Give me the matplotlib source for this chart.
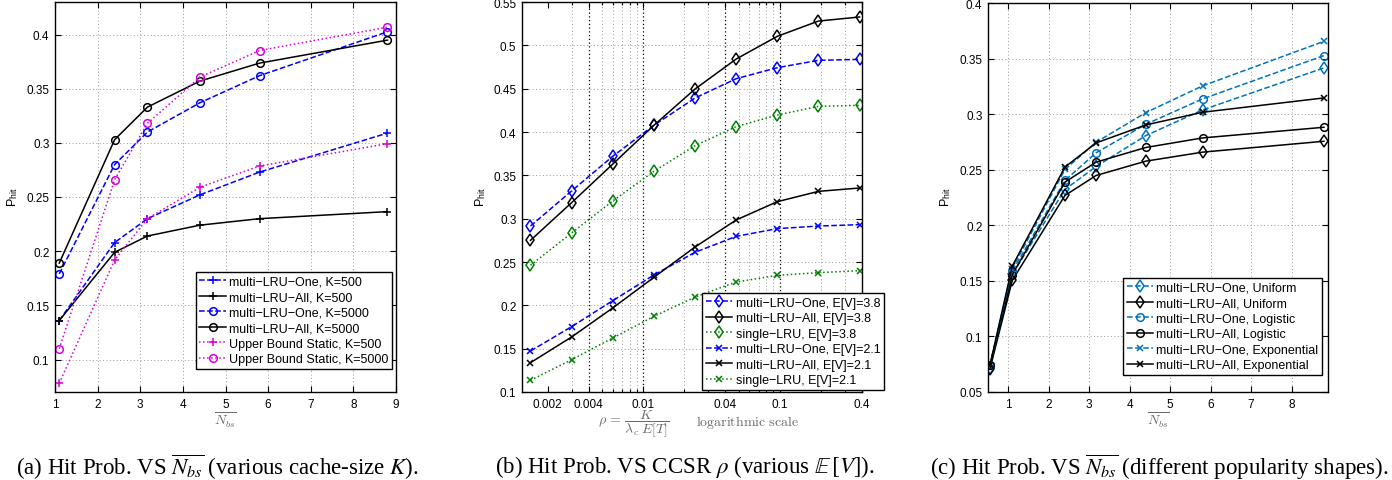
import numpy as np
import matplotlib
matplotlib.use("Agg")
import matplotlib.pyplot as plt
from matplotlib.ticker import FixedLocator, NullFormatter, LogLocator

# ---------------- data ----------------
nbs_a = [1.1, 2.4, 3.17, 4.4, 5.8, 8.8]
one_k500 = [0.136, 0.208, 0.230, 0.252, 0.273, 0.309]
all_k500 = [0.136, 0.199, 0.214, 0.224, 0.230, 0.2365]
one_k5000 = [0.179, 0.280, 0.310, 0.337, 0.362, 0.4025]
all_k5000 = [0.189, 0.303, 0.333, 0.357, 0.3736, 0.3948]
ub_k500 = [0.078, 0.192, 0.230, 0.259, 0.2786, 0.2992]
ub_k5000 = [0.110, 0.266, 0.318, 0.3607, 0.3852, 0.4068]

rho = [0.0015, 0.003, 0.006, 0.012, 0.024, 0.048, 0.096, 0.192, 0.384]
one_v38 = [0.2915, 0.332, 0.372, 0.4077, 0.4392, 0.4615, 0.4742, 0.4827, 0.4838]
all_v38 = [0.275, 0.3185, 0.363, 0.4077, 0.4496, 0.4842, 0.5104, 0.528, 0.5327]
single_v38 = [0.2462, 0.2835, 0.3204, 0.3546, 0.3842, 0.4062, 0.4196, 0.4296, 0.4308]
one_v21 = [0.1473, 0.1754, 0.2054, 0.235, 0.2612, 0.2796, 0.2885, 0.2915, 0.2931]
all_v21 = [0.1338, 0.1635, 0.197, 0.2323, 0.2673, 0.2985, 0.3196, 0.3315, 0.3354]
single_v21 = [0.1135, 0.1373, 0.1623, 0.1873, 0.2096, 0.2269, 0.2346, 0.2377, 0.240]

nbs_c = [0.55, 1.1, 2.4, 3.17, 4.4, 5.8, 8.8]
one_unif = [0.0716, 0.1558, 0.2322, 0.2529, 0.2807, 0.3038, 0.3416]
all_unif = [0.071, 0.1504, 0.2268, 0.2448, 0.2577, 0.2658, 0.2756]
one_logi = [0.074, 0.1585, 0.2403, 0.2652, 0.2909, 0.3137, 0.3527]
all_logi = [0.074, 0.1555, 0.2388, 0.2568, 0.270, 0.2786, 0.2882]
one_expo = [0.0746, 0.1609, 0.2502, 0.2747, 0.3014, 0.3254, 0.3655]
all_expo = [0.0746, 0.1633, 0.2523, 0.2741, 0.2903, 0.3017, 0.3146]

xticks_a = [1, 2, 3, 4, 5, 6, 7, 8, 9]
yticks_a = [0.1, 0.15, 0.2, 0.25, 0.3, 0.35, 0.4]
xticks_b = [0.002, 0.004, 0.01, 0.04, 0.1, 0.4]
xticklabels_b = ["0.002", "0.004", "0.01", "0.04", "0.1", "0.4"]
dark_grid_b = [0.004, 0.01, 0.04, 0.1]
yticks_b = [0.1, 0.15, 0.2, 0.25, 0.3, 0.35, 0.4, 0.45, 0.5, 0.55]
xticks_c = [1, 2, 3, 4, 5, 6, 7, 8]
yticks_c = [0.05, 0.1, 0.15, 0.2, 0.25, 0.3, 0.35, 0.4]

m = "\u2212"
labels_a = [f"multi{m}LRU{m}One, K=500", f"multi{m}LRU{m}All, K=500",
            f"multi{m}LRU{m}One, K=5000", f"multi{m}LRU{m}All, K=5000",
            "Upper Bound Static, K=500", "Upper Bound Static, K=5000"]
labels_b = [f"multi{m}LRU{m}One, E[V]=3.8", f"multi{m}LRU{m}All, E[V]=3.8",
            f"single{m}LRU, E[V]=3.8", f"multi{m}LRU{m}One, E[V]=2.1",
            f"multi{m}LRU{m}All, E[V]=2.1", f"single{m}LRU, E[V]=2.1"]
labels_c = [f"multi{m}LRU{m}One, Uniform", f"multi{m}LRU{m}All, Uniform",
            f"multi{m}LRU{m}One, Logistic", f"multi{m}LRU{m}All, Logistic",
            f"multi{m}LRU{m}One, Exponential", f"multi{m}LRU{m}All, Exponential"]

# ---------------- style ----------------
plt.rcParams['font.family'] = ['Liberation Sans', 'DejaVu Sans']
plt.rcParams['mathtext.fontset'] = 'stix'
TICK_FS = 8.5
LEG_FS = 9
BLUE = (0, 0, 1)
BLUE_C = (0.0, 0.45, 0.74)
GREEN = (0, 0.5, 0)
MAG = (0.85, 0, 0.85)
GRID = dict(color='#9a9a9a', linestyle=(0, (1, 2.5)), linewidth=0.7)

fig = plt.figure(figsize=(13.92, 4.81), dpi=100)
W, H = 1392, 481


def add_ax(x0, x1, y0, y1):
    return fig.add_axes([x0 / W, 1 - y1 / H, (x1 - x0) / W, (y1 - y0) / H])


def style(ax):
    ax.tick_params(direction='in', which='both', top=True, right=True,
                   labelsize=TICK_FS, length=4, width=0.8, pad=4)
    ax.tick_params(which='minor', length=2)
    for s in ax.spines.values():
        s.set_linewidth(1.0)
    ax.set_axisbelow(True)


def legend(ax, anchor):
    lg = ax.legend(loc='lower right', bbox_to_anchor=anchor, fontsize=LEG_FS,
                   frameon=True, fancybox=False, edgecolor='k', framealpha=1,
                   handlelength=2.1, labelspacing=0.28, borderpad=0.3,
                   handletextpad=0.25, borderaxespad=0)
    lg.get_frame().set_linewidth(1.0)
    return lg


lw = 1.1
ms = 5.5

# ---------------- panel a ----------------
ax1 = add_ax(55, 396, 3, 393)
ax1.plot(nbs_a, one_k500, '--', color=BLUE, marker='+', ms=6, mew=1.1, lw=lw, label=labels_a[0])
ax1.plot(nbs_a, all_k500, '-', color='k', marker='+', ms=6, mew=1.1, lw=lw, label=labels_a[1])
ax1.plot(nbs_a, one_k5000, '--', color=BLUE, marker='o', ms=ms, mfc='none', mew=1.1, lw=lw, label=labels_a[2])
ax1.plot(nbs_a, all_k5000, '-', color='k', marker='o', ms=ms, mfc='none', mew=1.1, lw=lw, label=labels_a[3])
ax1.plot(nbs_a, ub_k500, ':', color=MAG, marker='+', ms=6, mew=1.1, lw=lw, label=labels_a[4])
ax1.plot(nbs_a, ub_k5000, ':', color=MAG, marker='o', ms=ms, mfc='none', mew=1.1, lw=lw, label=labels_a[5])
ax1.set_xlim(1, 9)
ax1.set_ylim(0.07, 0.43)
ax1.set_xticks(xticks_a)
ax1.set_yticks(yticks_a)
ax1.set_yticklabels([f"{v:g}" for v in yticks_a])
ax1.grid(True, **GRID)
style(ax1)
legend(ax1, (0.988, 0.059))

# ---------------- panel b ----------------
ax2 = add_ax(522, 862, 3, 393)
ax2.set_xscale('log')
ax2.plot(rho, one_v38, '--', color=BLUE, marker='d', ms=6.5, mfc='none', mew=1.1, lw=lw, label=labels_b[0])
ax2.plot(rho, all_v38, '-', color='k', marker='d', ms=6.5, mfc='none', mew=1.1, lw=lw, label=labels_b[1])
ax2.plot(rho, single_v38, ':', color=GREEN, marker='d', ms=6.5, mfc='none', mew=1.1, lw=lw, label=labels_b[2])
ax2.plot(rho, one_v21, '--', color=BLUE, marker='x', ms=4, mew=1.1, lw=lw, label=labels_b[3])
ax2.plot(rho, all_v21, '-', color='k', marker='x', ms=4, mew=1.1, lw=lw, label=labels_b[4])
ax2.plot(rho, single_v21, ':', color=GREEN, marker='x', ms=4, mew=1.1, lw=lw, label=labels_b[5])
ax2.set_xlim(0.0013, 0.4)
ax2.set_ylim(0.1, 0.55)
ax2.xaxis.set_major_locator(FixedLocator(xticks_b))
ax2.set_xticklabels(xticklabels_b)
ax2.xaxis.set_minor_locator(LogLocator(base=10, subs=np.arange(1, 10)))
ax2.xaxis.set_minor_formatter(NullFormatter())
ax2.grid(True, which='minor', axis='x', **GRID)
ax2.grid(True, which='major', axis='y', **GRID)
for xv in dark_grid_b:
    ax2.axvline(xv, color='k', linestyle=(0, (1, 2)), linewidth=0.9, zorder=0.5)
ax2.set_yticks(yticks_b)
ax2.set_yticklabels([f"{v:g}" for v in yticks_b])
style(ax2)
legend(ax2, (1.065, 0.005))

# ---------------- panel c ----------------
ax3 = add_ax(988, 1328, 4, 393)
ax3.plot(nbs_c, one_unif, '--', color=BLUE_C, marker='d', ms=6, mfc='none', mew=1.1, lw=lw, label=labels_c[0])
ax3.plot(nbs_c, all_unif, '-', color='k', marker='d', ms=6, mfc='none', mew=1.1, lw=lw, label=labels_c[1])
ax3.plot(nbs_c, one_logi, '--', color=BLUE_C, marker='o', ms=ms, mfc='none', mew=1.1, lw=lw, label=labels_c[2])
ax3.plot(nbs_c, all_logi, '-', color='k', marker='o', ms=ms, mfc='none', mew=1.1, lw=lw, label=labels_c[3])
ax3.plot(nbs_c, one_expo, '--', color=BLUE_C, marker='x', ms=4, mew=1.1, lw=lw, label=labels_c[4])
ax3.plot(nbs_c, all_expo, '-', color='k', marker='x', ms=4, mew=1.1, lw=lw, label=labels_c[5])
ax3.set_xlim(0.5, 8.9)
ax3.set_ylim(0.05, 0.4)
ax3.set_xticks(xticks_c)
ax3.set_yticks(yticks_c)
ax3.set_yticklabels([f"{v:g}" for v in yticks_c])
ax3.grid(True, **GRID)
style(ax3)
legend(ax3, (0.982, 0.044))

# ---------------- axis labels ----------------
for xp in (13, 481, 946):
    fig.text(xp / W, 1 - 197 / H, r"P$_{\mathregular{hit}}$", rotation=90,
             ha='center', va='center', fontsize=9)

GRAYTXT = '#6a6a6a'
for xc in (225, 1158):
    fig.text(xc / W, 1 - 420 / H, r"$\overline{N_{bs}}$", ha='center', va='center',
             fontsize=10, color=GRAYTXT, math_fontfamily='cm')
fig.text(634 / W, 1 - 424 / H, r"$\rho\,=\,\dfrac{K}{\lambda_c\;E[T]}$", ha='center',
         va='center', fontsize=10, color=GRAYTXT, math_fontfamily='cm')
fig.text(747 / W, 1 - 423 / H, r"$\mathrm{logarithmic\ scale}$", ha='center',
         va='center', fontsize=10, color=GRAYTXT, math_fontfamily='cm')

# ---------------- captions ----------------
CAP = dict(ha='center', va='center', fontsize=16.5, family='Liberation Serif')
fig.text(217 / W, 1 - 467 / H, r"(a) Hit Prob. VS $\overline{N_{bs}}$ (various cache-size $K$).", **CAP)
fig.text(685 / W, 1 - 467 / H, r"(b) Hit Prob. VS CCSR $\rho$ (various $\mathbb{E}\,[V]$).", **CAP)
fig.text(1159 / W, 1 - 467 / H, r"(c) Hit Prob. VS $\overline{N_{bs}}$ (different popularity shapes).", **CAP)

fig.savefig("out.png", dpi=100)
